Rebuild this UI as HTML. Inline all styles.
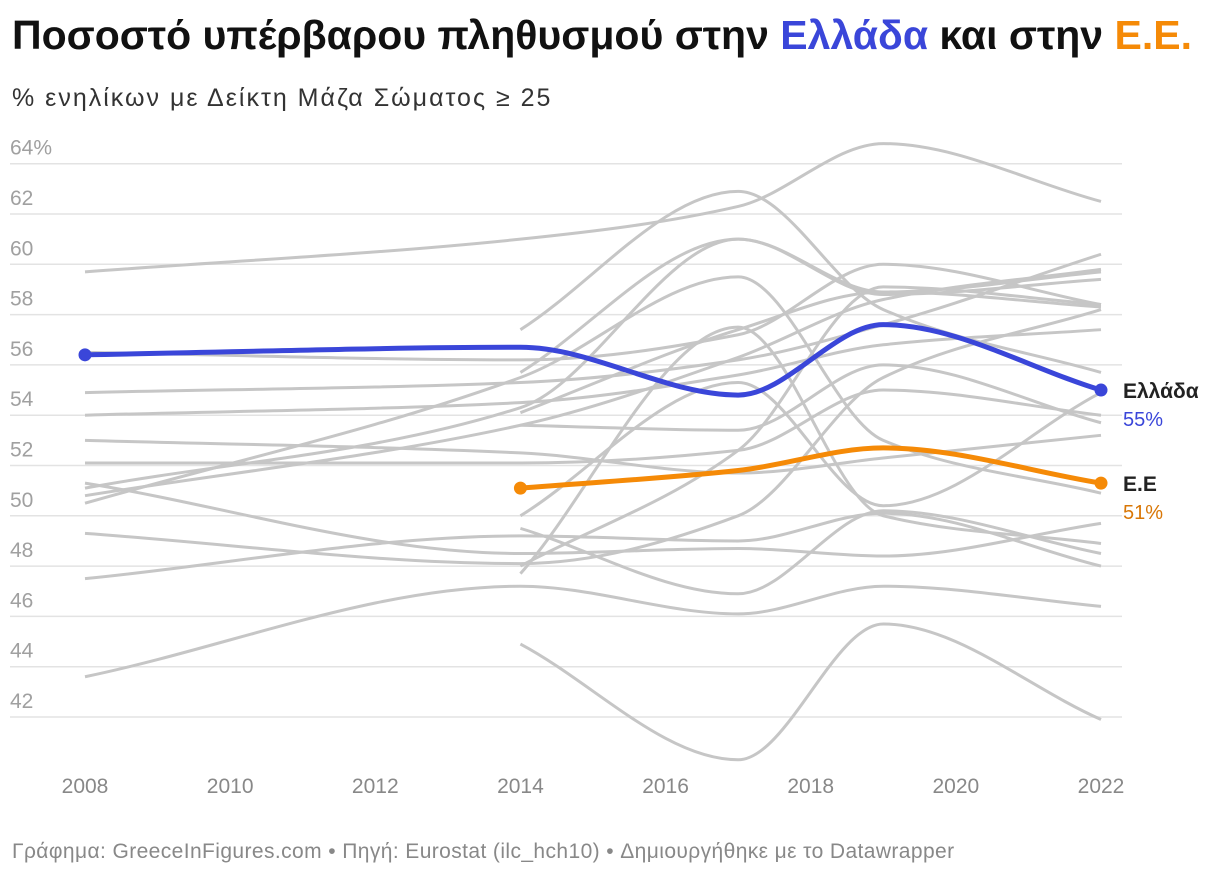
<!DOCTYPE html>
<html><head><meta charset="utf-8">
<style>
body{margin:0;background:#fff;font-family:"Liberation Sans",sans-serif;}
#wrap{position:relative;width:1220px;height:876px;overflow:hidden;}
h1{position:absolute;left:12px;top:12px;margin:0;font-size:41px;font-weight:bold;color:#111;letter-spacing:0px;white-space:nowrap;}
.sub{position:absolute;left:12px;top:84px;font-size:25px;color:#333;letter-spacing:2px;white-space:nowrap;}
.foot{position:absolute;left:12px;top:840px;font-size:21px;color:#888;letter-spacing:0.4px;white-space:nowrap;}
</style></head><body>
<div id="wrap">
<h1>Ποσοστό υπέρβαρου πληθυσμού στην <span style="color:#3a46d9">Ελλάδα</span> και στην <span style="color:#f58a07">Ε.Ε.</span></h1>
<div class="sub">% ενηλίκων με Δείκτη Μάζα Σώματος ≥ 25</div>
<svg id="chart" width="1220" height="876" style="position:absolute;left:0;top:0"></svg>
<div class="foot">Γράφημα: GreeceInFigures.com • Πηγή: Eurostat (ilc_hch10) • Δημιουργήθηκε με το Datawrapper</div>
</div>
<script>
const years=[2008,2014,2017,2019,2022];
const yTicks=[42,44,46,48,50,52,54,56,58,60,62,64];
const xTicks=[2008,2010,2012,2014,2016,2018,2020,2022];
const greece=[56.4,56.7,54.8,57.6,55.0];
const eu=[null,51.1,51.8,52.7,51.3];
const g1=[59.7,61.0,62.3,64.8,62.5];
const g2=[56.5,56.2,57.2,60.0,58.4];
const g3=[54.9,55.3,56.2,57.6,60.4];
const g4=[54.0,54.5,55.6,56.8,57.4];
const g5=[53.0,52.5,51.7,52.3,53.2];
const g6=[52.1,52.1,52.6,55.0,54.0];
const g7=[51.1,54.3,61.0,58.9,59.7];
const g8=[50.8,53.6,56.3,58.6,59.8];
const g9=[50.5,55.5,59.5,53.0,50.9];
const g10=[51.3,48.5,48.7,48.4,49.7];
const g11=[49.3,48.1,50.0,55.5,58.2];
const g12=[47.5,49.2,49.0,50.1,48.0];
const g13=[43.6,47.2,46.1,47.2,46.4];
const g14=[null,57.4,62.9,58.2,55.7];
const g15=[null,50.0,55.3,50.4,54.9];
const g16=[null,48.0,52.6,59.1,58.4];
const g17=[null,49.5,46.9,50.2,48.5];
const g18=[null,47.7,57.5,50.0,48.9];
const g19=[null,44.9,40.3,45.7,41.9];
const g20=[null,53.6,53.4,56.0,53.7];
const g21=[null,55.7,61.0,58.8,59.4];
const g22=[null,54.1,57.4,58.9,58.3];
const greys=[g1,g2,g3,g4,g5,g6,g7,g8,g9,g10,g11,g12,g13,g14,g15,g16,g17,g18,g19,g20,g21,g22];

const NS="http://www.w3.org/2000/svg";
const svg=document.getElementById('chart');
const X=y=>85+(y-2008)*(1101-85)/14;
const Y=v=>717-(v-42)*25.15;
function mk(t,a){const e=document.createElementNS(NS,t);for(const k in a)e.setAttribute(k,a[k]);svg.appendChild(e);return e;}
yTicks.forEach(v=>{
  const l=mk('line',{x1:10,x2:1122,y1:Y(v),y2:Y(v),stroke:'#e3e3e3','stroke-width':1.5});
  
  
  const t=mk('text',{x:10,y:Y(v)-9,'font-size':21,fill:'#a0a0a0'});
  t.textContent=v+(v===64?'%':'');
  
  
});
xTicks.forEach(v=>{
  const t=mk('text',{x:X(v),y:793,'font-size':21,fill:'#888','text-anchor':'middle'});
  t.textContent=v;
  
  
});
function monoPath(pts){
  const n=pts.length;if(n<2)return '';
  const dx=[],m=[],t=[];
  for(let i=0;i<n-1;i++){dx[i]=pts[i+1][0]-pts[i][0];m[i]=(pts[i+1][1]-pts[i][1])/dx[i];}
  t[0]=m[0];t[n-1]=m[n-2];
  for(let i=1;i<n-1;i++){
    if(m[i-1]*m[i]<=0)t[i]=0;
    else{const h0=dx[i-1],h1=dx[i];t[i]=3*(h0+h1)/((2*h1+h0)/m[i-1]+(h1+2*h0)/m[i]);}
  }
  let d='M'+pts[0][0]+','+pts[0][1];
  for(let i=0;i<n-1;i++){
    const h=dx[i]/3;
    d+=' C'+(pts[i][0]+h)+','+(pts[i][1]+t[i]*h)+' '+(pts[i+1][0]-h)+','+(pts[i+1][1]-t[i+1]*h)+' '+pts[i+1][0]+','+pts[i+1][1];
  }
  return d;
}
function pts(arr){const p=[];arr.forEach((v,i)=>{if(v!=null)p.push([X(years[i]),Y(v)]);});return p;}
greys.forEach(s=>{
  const p=mk('path',{d:monoPath(pts(s)),fill:'none',stroke:'#c6c6c6','stroke-width':3});
  
  
});
function series(arr,col,name,lab,val,labCol){
  const p=pts(arr);
  const path=mk('path',{d:monoPath(p),fill:'none',stroke:col,'stroke-width':5,'stroke-linecap':'round'});
  
  
  [p[0],p[p.length-1]].forEach(q=>{
    const c=mk('circle',{cx:q[0],cy:q[1],r:6.5,fill:col});
    
    
  });
  const e=p[p.length-1];
  const t1=mk('text',{x:1123,y:e[1]+8,'font-size':21,'font-weight':'bold',fill:'#222'});
  t1.textContent=lab;
  
  
  const t2=mk('text',{x:1123,y:e[1]+36,'font-size':20,fill:labCol});
  t2.textContent=val;
  
  
}
series(eu,'#f58a07','eu','Ε.Ε','51%','#d97706');
series(greece,'#3a46d9','greece','Ελλάδα','55%','#3a46d9');
</script>
</body></html>
